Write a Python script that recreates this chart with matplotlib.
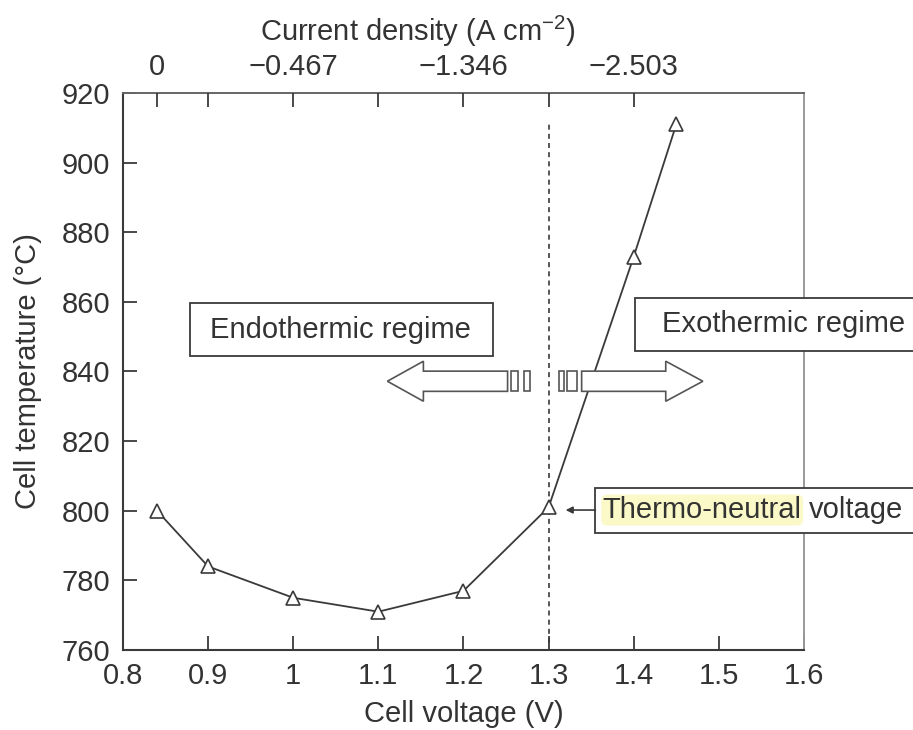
import matplotlib
matplotlib.use('Agg')
import matplotlib.pyplot as plt
from matplotlib.patches import Polygon, Rectangle

plt.rcParams['font.family'] = ['Liberation Sans', 'DejaVu Sans']
plt.rcParams['mathtext.fontset'] = 'custom'
plt.rcParams['mathtext.rm'] = 'Liberation Sans'
plt.rcParams['mathtext.it'] = 'Liberation Sans'

# data
voltage = [0.84, 0.9, 1.0, 1.1, 1.2, 1.3, 1.4, 1.45]
temperature = [800, 784, 775, 771, 777, 801, 873, 911]

# top axis: current density at given voltages
top_tick_pos = [0.84, 0.9, 1.0, 1.1, 1.2, 1.3, 1.4]
top_tick_labels = ['0', '', '\u22120.467', '', '\u22121.346', '', '\u22122.503']

neutral_v = 1.3

TXT = '#333333'
LN = '#3a3a3a'
FS = 21

fig = plt.figure(figsize=(9.13, 7.3), dpi=100)
ax = fig.add_axes([0.1347, 0.1096, 0.7459, 0.7630])

ax.set_xlim(0.8, 1.6)
ax.set_ylim(760, 920)
ax.set_xticks([0.8, 0.9, 1.0, 1.1, 1.2, 1.3, 1.4, 1.5, 1.6])
ax.set_xticklabels(['0.8', '0.9', '1', '1.1', '1.2', '1.3', '1.4', '1.5', '1.6'])
ax.set_yticks(range(760, 921, 20))
ax.tick_params(direction='in', length=10, width=1.3, color=LN, labelsize=FS,
               labelcolor=TXT, pad=9, top=False, right=False)
for s in ['left', 'bottom']:
    ax.spines[s].set_color(LN)
    ax.spines[s].set_linewidth(1.5)
ax.spines['top'].set_color('#666666')
ax.spines['top'].set_linewidth(1.4)
ax.spines['right'].set_color('#999999')
ax.spines['right'].set_linewidth(1.4)

ax.set_xlabel('Cell voltage (V)', fontsize=FS, color=TXT, labelpad=7)
ax.set_ylabel('Cell temperature (\u00b0C)', fontsize=FS, color=TXT)
ax.yaxis.set_label_coords(-0.119, 0.5)

ax2 = ax.twiny()
ax2.set_xlim(0.8, 1.6)
ax2.set_xticks(top_tick_pos)
ax2.set_xticklabels(top_tick_labels)
ax2.tick_params(direction='in', length=10, width=1.3, color=LN, labelsize=FS,
                labelcolor=TXT, pad=9)
for s in ax2.spines.values():
    s.set_visible(False)
ax2.set_xlabel('Current density (A cm$^{-2}$)', fontsize=FS, color=TXT)
ax2.xaxis.set_label_coords(0.433, 1.093)

# curve
ax.plot(voltage, temperature, color=LN, lw=1.3, marker='^', ms=10,
        mfc='white', mec=LN, mew=1.2, zorder=3)

# thermo-neutral dashed line
ax.plot([neutral_v, neutral_v], [762, 912], color=LN, lw=1.2,
        ls=(0, (3, 2.5)), zorder=2)


def block_arrow(x_tip, x_base, x_end, yc, sw=2.9, hw=5.75):
    pts = [(x_tip, yc), (x_base, yc + hw), (x_base, yc + sw), (x_end, yc + sw),
           (x_end, yc - sw), (x_base, yc - sw), (x_base, yc - hw)]
    ax.add_patch(Polygon(pts, closed=True, fc='white', ec='#555555', lw=1.2, zorder=4))


def stripe(x0, x1, yc, sw=2.9):
    ax.add_patch(Rectangle((x0, yc - sw), x1 - x0, 2 * sw, fc='white',
                           ec='#555555', lw=1.2, zorder=4))


yc = 837.2
block_arrow(1.1106, 1.1529, 1.2518, yc)
stripe(1.2553, 1.2635, yc)
stripe(1.2706, 1.2776, yc)
block_arrow(1.4812, 1.4376, 1.3388, yc)
stripe(1.3212, 1.3329, yc)
stripe(1.3118, 1.3176, yc)

# text boxes
def box(x0, x1, y0, y1):
    ax.add_patch(Rectangle((x0, y0), x1 - x0, y1 - y0, fc='white', ec=LN,
                           lw=1.3, zorder=5, clip_on=False))


box(0.879, 1.235, 844.4, 859.7)
ax.text(1.056, 852.0, 'Endothermic regime', fontsize=FS, color=TXT,
        ha='center', va='center', zorder=6, clip_on=False)

box(1.402, 1.76, 845.9, 861.1)
ax.text(1.5765, 853.6, 'Exothermic regime', fontsize=FS, color=TXT,
        ha='center', va='center', zorder=6, clip_on=False)

box(1.355, 1.76, 793.6, 806.5)
t1 = ax.text(1.3635, 800.2, 'Thermo-neutral', fontsize=FS, color=TXT,
             ha='left', va='center', zorder=6, clip_on=False,
             bbox=dict(boxstyle='round,pad=0.05,rounding_size=0.2',
                       fc='#fbf9c8', ec='none'))
ax.annotate('voltage', xy=(1, 0), xycoords=t1, xytext=(5, 0),
            textcoords='offset points', fontsize=FS, color=TXT,
            ha='left', va='bottom', zorder=6, annotation_clip=False)

ax.annotate('', xy=(1.32, 800.2), xytext=(1.355, 800.2),
            arrowprops=dict(arrowstyle='-|>', color=LN, lw=1.2,
                            mutation_scale=10, shrinkA=0, shrinkB=0),
            zorder=6)

fig.savefig('out.png', dpi=100)
